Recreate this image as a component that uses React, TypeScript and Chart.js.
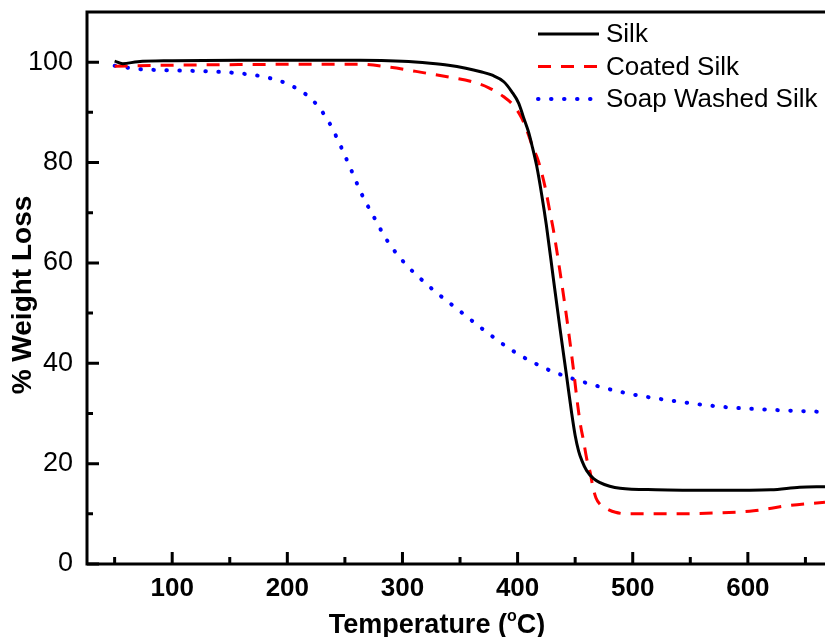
import React, { useEffect, useRef } from "react";
import { Chart, registerables } from "chart.js";

Chart.register(...registerables);

// ---- Data ----
const silkTemp = [50, 57, 70, 100, 160, 200, 263, 300, 324, 340, 355, 368, 378, 388, 395, 401, 405, 409.5, 412.3, 416.6, 421, 425, 431, 436.9, 442.7, 447, 450, 453, 456, 460, 466, 471.6, 480, 489, 520, 576, 620, 645, 667];
const silkWeight = [100.2, 99.7, 100.1, 100.3, 100.4, 100.4, 100.4, 100.2, 99.8, 99.4, 98.8, 98.1, 97.4, 96.1, 94.1, 91.8, 89.1, 86.1, 83.6, 79.3, 73.5, 67.5, 57.0, 46.8, 37.2, 30.0, 25.6, 22.5, 20.5, 18.6, 17.0, 16.2, 15.5, 15.1, 14.8, 14.7, 14.8, 15.3, 15.4];

const coatedTemp = [50, 100, 144, 231, 263, 289, 321, 344, 359, 375, 388, 396.4, 403.7, 409.5, 412.3, 418, 424, 428.2, 431, 437, 444, 448.5, 452, 455, 457, 460, 463, 465, 468, 472, 477.5, 485, 495, 532, 576, 605, 634, 667];
const coatedWeight = [99.2, 99.4, 99.5, 99.6, 99.6, 99.0, 97.8, 96.9, 96.2, 94.9, 93.1, 91.4, 88.8, 85.5, 83.6, 80.3, 75.0, 70.0, 66.7, 58.0, 46.8, 38.8, 32.0, 27.2, 24.9, 21.0, 18.3, 15.8, 13.2, 11.8, 11.0, 10.3, 10.0, 10.0, 10.2, 10.6, 11.6, 12.3];

const soapTemp = [50, 61.5, 72, 95, 138.6, 161.7, 183.4, 203.7, 222.5, 235.5, 246.3, 255.9, 264.6, 275.3, 286.3, 300.2, 323.3, 347.7, 372.6, 397.8, 423.9, 434.5, 453.7, 493.4, 535.3, 578.8, 622.3, 667];
const soapWeight = [99.3, 98.9, 98.6, 98.4, 98.1, 97.7, 96.9, 95.3, 92.3, 88.3, 83.3, 78.3, 73.7, 69.1, 64.6, 60.4, 55.3, 50.8, 46.3, 42.2, 39.0, 38.0, 36.5, 34.1, 32.5, 31.3, 30.7, 30.3];

const seriesLabels = ["Silk", "Coated Silk", "Soap Washed Silk"];

const xTickValues = [100, 200, 300, 400, 500, 600];
const xMinorTicks = [50, 150, 250, 350, 450, 550, 650];
const yTickValues = [0, 20, 40, 60, 80, 100];
const yMinorTicks = [10, 30, 50, 70, 90];

const xTitleMain = "Temperature (";
const xTitleSup = "o";
const xTitleEnd = "C)";
const yTitle = "% Weight Loss";

const FONT = '"Liberation Sans", Arial, Helvetica, sans-serif';

const toPoints = (xs: number[], ys: number[]) => xs.map((x, i) => ({ x, y: ys[i] }));

const framePlugin = {
  id: "frameAndDecor",
  afterDatasetsDraw(chart: any) {
    const { ctx, chartArea } = chart;
    const { left, right, top, bottom } = chartArea;
    const xs = chart.scales.x;
    const ys = chart.scales.y;
    ctx.save();
    ctx.strokeStyle = "#000";
    ctx.lineWidth = 3;
    ctx.lineJoin = "miter";
    ctx.lineCap = "butt";
    // frame: top, left, bottom (right side is cut off in the reference)
    ctx.beginPath();
    ctx.moveTo(right + 5, top);
    ctx.lineTo(left, top);
    ctx.lineTo(left, bottom);
    ctx.lineTo(right + 5, bottom);
    ctx.stroke();
    // inward ticks
    ctx.beginPath();
    xTickValues.forEach((v) => {
      const px = xs.getPixelForValue(v);
      ctx.moveTo(px, bottom);
      ctx.lineTo(px, bottom - 12);
    });
    xMinorTicks.forEach((v) => {
      const px = xs.getPixelForValue(v);
      ctx.moveTo(px, bottom);
      ctx.lineTo(px, bottom - 7);
    });
    yTickValues.forEach((v) => {
      const py = ys.getPixelForValue(v);
      ctx.moveTo(left, py);
      ctx.lineTo(left + 12, py);
    });
    yMinorTicks.forEach((v) => {
      const py = ys.getPixelForValue(v);
      ctx.moveTo(left, py);
      ctx.lineTo(left + 6, py);
    });
    ctx.stroke();
    ctx.restore();
  },
  afterDraw(chart: any) {
    const { ctx } = chart;
    ctx.save();
    ctx.fillStyle = "#000";
    // Legend
    const lx0 = 538;
    const lx1 = 599;
    const tx = 606;
    const rowY = [34, 66.5, 99];
    chart.data.datasets.forEach((ds: any, i: number) => {
      const y = rowY[i];
      ctx.save();
      ctx.strokeStyle = ds.borderColor;
      ctx.lineWidth = ds.borderWidth;
      ctx.lineCap = ds.borderCapStyle || "butt";
      ctx.setLineDash(ds.borderDash || []);
      ctx.beginPath();
      ctx.moveTo(lx0, y);
      ctx.lineTo(lx1, y);
      ctx.stroke();
      ctx.restore();
      ctx.font = `26px ${FONT}`;
      ctx.textAlign = "left";
      ctx.textBaseline = "middle";
      ctx.fillText(ds.label, tx, y + 1);
    });

    // X axis title with superscript degree "o"
    ctx.textBaseline = "alphabetic";
    ctx.textAlign = "left";
    const bigFont = `bold 27px ${FONT}`;
    const supFont = `bold 16px ${FONT}`;
    ctx.font = bigFont;
    const w1 = ctx.measureText(xTitleMain).width;
    const w3 = ctx.measureText(xTitleEnd).width;
    ctx.font = supFont;
    const w2 = ctx.measureText(xTitleSup).width;
    const total = w1 + w2 + w3;
    const cx = 437;
    const base = 633;
    let x = cx - total / 2;
    ctx.font = bigFont;
    ctx.fillText(xTitleMain, x, base);
    x += w1;
    ctx.font = supFont;
    ctx.fillText(xTitleSup, x, base - 12);
    x += w2;
    ctx.font = bigFont;
    ctx.fillText(xTitleEnd, x, base);

    // Y axis title
    ctx.save();
    ctx.translate(23, 295);
    ctx.rotate(-Math.PI / 2);
    ctx.font = `bold 28px ${FONT}`;
    ctx.textAlign = "center";
    ctx.textBaseline = "middle";
    ctx.fillText(yTitle, 0, 0);
    ctx.restore();

    ctx.restore();
  },
};

export default function App() {
  const canvasRef = useRef<HTMLCanvasElement | null>(null);

  useEffect(() => {
    const canvas = canvasRef.current;
    if (!canvas) return;
    const chart = new Chart(canvas, {
      type: "line",
      data: {
        datasets: [
          {
            label: seriesLabels[0],
            data: toPoints(silkTemp, silkWeight),
            borderColor: "#000000",
            borderWidth: 3,
            pointRadius: 0,
            fill: false,
            cubicInterpolationMode: "monotone",
            borderCapStyle: "butt",
          },
          {
            label: seriesLabels[1],
            data: toPoints(coatedTemp, coatedWeight),
            borderColor: "#ff0000",
            borderWidth: 3,
            borderDash: [13, 10],
            pointRadius: 0,
            fill: false,
            cubicInterpolationMode: "monotone",
            borderCapStyle: "butt",
          },
          {
            label: seriesLabels[2],
            data: toPoints(soapTemp, soapWeight),
            borderColor: "#0000ff",
            borderWidth: 4,
            borderDash: [0.5, 12.5],
            pointRadius: 0,
            fill: false,
            cubicInterpolationMode: "monotone",
            borderCapStyle: "round",
          },
        ],
      },
      options: {
        animation: false,
        responsive: false,
        devicePixelRatio: 1,
        layout: { padding: { top: 12, left: 0, right: 0, bottom: 0 } },
        plugins: {
          legend: { display: false },
          tooltip: { enabled: false },
          title: { display: false },
        },
        scales: {
          x: {
            type: "linear",
            min: 26,
            max: 667,
            afterBuildTicks: (s: any) => {
              s.ticks = xTickValues.map((v) => ({ value: v }));
            },
            afterFit: (s: any) => {
              s.height = 73;
              s.paddingLeft = 0;
              s.paddingRight = 0;
              s.paddingTop = 0;
              s.paddingBottom = 0;
            },
            grid: { display: false, drawTicks: false },
            border: { display: false },
            ticks: {
              color: "#000",
              font: { family: FONT, size: 26, weight: "bold" },
              padding: 9,
              maxRotation: 0,
              autoSkip: false,
              callback: (v: any) => String(v),
            },
          },
          y: {
            type: "linear",
            min: 0,
            max: 110,
            afterBuildTicks: (s: any) => {
              s.ticks = yTickValues.map((v) => ({ value: v }));
            },
            afterFit: (s: any) => {
              s.width = 87;
              s.paddingLeft = 0;
              s.paddingRight = 0;
              s.paddingTop = 0;
              s.paddingBottom = 0;
            },
            grid: { display: false, drawTicks: false },
            border: { display: false },
            ticks: {
              color: "#000",
              font: { family: FONT, size: 27, weight: "normal" },
              padding: 14,
              autoSkip: false,
              callback: (v: any) => String(v),
            },
          },
        },
      },
      plugins: [framePlugin],
    } as any);
    return () => chart.destroy();
  }, []);

  return (
    <div style={{ position: "fixed", left: 0, top: 0, width: 825, height: 637, background: "#fff", overflow: "hidden" }}>
      <canvas ref={canvasRef} width={825} height={637} style={{ display: "block", width: 825, height: 637 }} />
    </div>
  );
}
